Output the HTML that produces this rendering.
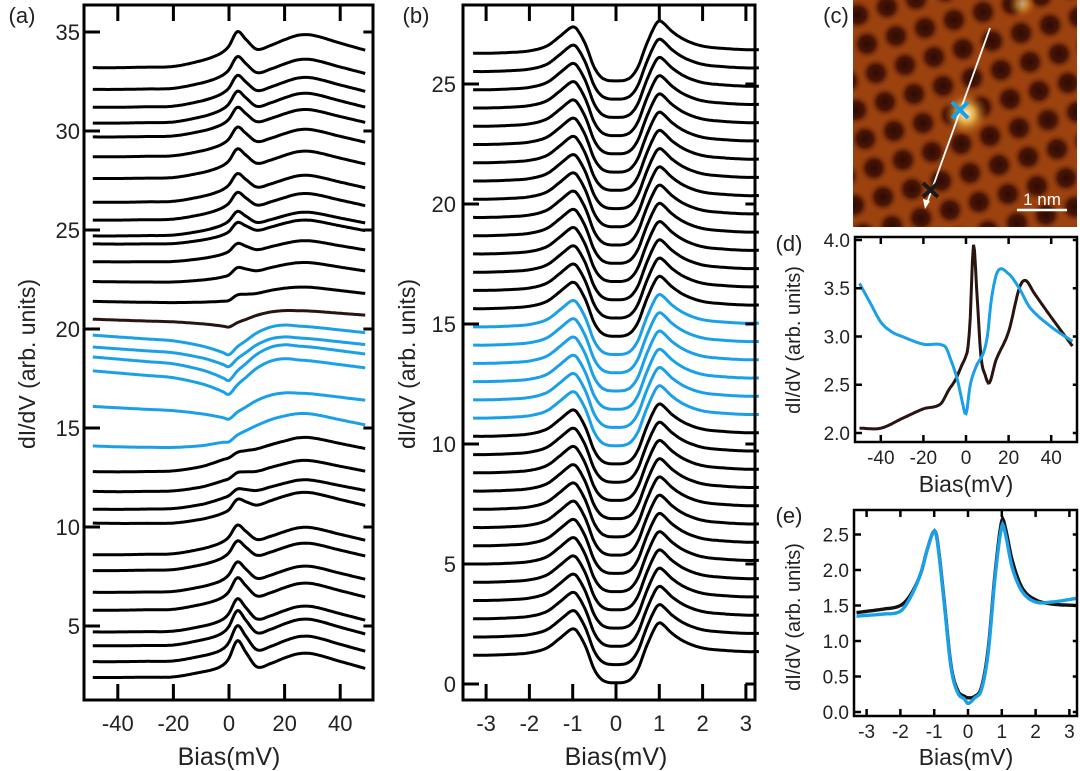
<!DOCTYPE html>
<html><head><meta charset="utf-8"><style>
html,body{margin:0;padding:0;background:#fff;}
svg{display:block;font-family:"Liberation Sans",Arial,sans-serif;}
</style></head><body>
<svg id="fig" width="1080" height="771" viewBox="0 0 1080 771">
<g id="gc"></g>
<g id="ga"></g>
<g id="gb"></g>
<g id="gd"></g>
<g id="ge"></g>
</svg>
<script>
// ---------- Panel (a) data ----------
const aNodes = [-50,-40,-30,-20,-10,-5,-2,0,3,6,10,15,20,25,30,40,50];
const aPeakShape = [0,0,0,0,0.1,0.15,0.25,0.45,1,0.6,0.08,0.15,0.3,0.4,0.4,0.2,0];
const aRiseShape = [0,0,0.02,0.05,0.2,0.35,0.45,0.5,0.6,0.65,0.7,0.8,0.9,1,1,0.85,0.7];
const aDipShape = [0,-0.1,-0.2,-0.3,-0.55,-0.75,-0.9,-1,-0.6,-0.3,0.1,0.4,0.5,0.45,0.4,0.25,0.1];
const aOffsets = [33.2,32.1,31.2,30.4,29.7,28.7,27.6,26.4,25.5,24.7,24.3,23.4,22.4,21.4,20.5,19.7,19.1,18.6,17.9,16.1,14.1,12.8,11.8,10.9,10.2,8.6,7.8,6.7,5.8,4.7,4.0,3.2,2.4];
const aPeak = [1.1,1.0,0.95,0.95,0.9,0.9,0.9,0.85,0.8,0.7,0.6,0.5,0.4,0.2,0,0,0,0,0,0,0,0.1,0.2,0.3,0.6,0.9,0.9,1.0,1.1,1.2,1.3,1.4,1.5];
const aRise = [1.2,1.1,1.1,1.1,1.0,1.0,1.0,1.0,1.0,0.9,0.9,0.8,0.7,0.5,0.2,0,0,0,0,0.3,1.4,1.6,1.4,1.3,1.2,1.0,1.0,0.9,0.9,0.8,0.8,0.7,0.6];
const aDip = [0,0,0,0,0,0,0,0,0,0,0.1,0.1,0.2,0.3,0.5,1.0,1.0,1.2,1.2,0.8,0.5,0.15,0.15,0.1,0.2,0,0,0,0,0,0,0,0];
const aColors = ["k","k","k","k","k","k","k","k","k","k","k","k","k","k","br","b","b","b","b","b","b","k","k","k","k","k","k","k","k","k","k","k","k"];
const aXTicks = [-40,-20,0,20,40];
const aYTicks = [5,10,15,20,25,30,35];
// ---------- Panel (b) data ----------
const bNodes = [-3.3,-3,-2.5,-2,-1.6,-1.3,-1.1,-1,-0.9,-0.7,-0.5,-0.3,0,0.3,0.5,0.7,0.9,1,1.1,1.3,1.6,2,2.5,3,3.3];
const bShape = [0,0,0.03,0.1,0.3,0.7,1.0,1.1,1.0,0.35,-0.6,-1.05,-1.15,-1.05,-0.6,0.35,1.15,1.35,1.25,0.9,0.55,0.3,0.2,0.15,0.15];
const bOffsets = [1.2,1.96,2.72,3.48,4.24,5.0,5.76,6.52,7.28,8.04,8.8,9.56,10.32,11.08,11.84,12.6,13.36,14.12,14.88,15.64,16.4,17.16,17.92,18.68,19.44,20.2,20.96,21.72,22.48,23.24,24.0,24.76,25.52,26.28];
const bBlue = [13,14,15,16,17,18];
const bXTicks = [-3,-2,-1,0,1,2,3];
const bYTicks = [0,5,10,15,20,25];
// ---------- Panel (d) data ----------
const dBlackX = [-50,-40,-30,-20,-12,-8,-5,-2,0,1,2,3.5,5,7,9,11,14,20,25,28,32,40,50];
const dBlackY = [2.05,2.05,2.15,2.25,2.3,2.45,2.55,2.7,2.8,2.9,3.2,3.95,3.5,2.8,2.6,2.52,2.75,3.05,3.5,3.58,3.45,3.2,2.9];
const dBlueX = [-50,-45,-40,-35,-30,-20,-10,-7,-4,-2,0,2,5,8,10,12,15,20,25,30,40,50];
const dBlueY = [3.55,3.35,3.15,3.05,3.0,2.92,2.9,2.75,2.55,2.35,2.2,2.5,2.7,2.82,3.0,3.4,3.68,3.65,3.5,3.3,3.1,2.95];
const dXTicks = [-40,-20,0,20,40];
const dYTicks = [2.0,2.5,3.0,3.5,4.0];
// ---------- Panel (e) data ----------
const eX = [-3.3,-2.5,-2,-1.7,-1.4,-1.2,-1.0,-0.9,-0.7,-0.5,-0.3,-0.1,0,0.2,0.4,0.6,0.8,1.0,1.1,1.3,1.6,2,2.5,3.2];
const eBlackY = [1.4,1.45,1.5,1.65,1.95,2.3,2.55,2.4,1.55,0.65,0.3,0.22,0.2,0.22,0.35,0.9,1.95,2.7,2.6,2.15,1.75,1.58,1.52,1.5];
const eBlueY = [1.35,1.38,1.42,1.62,1.95,2.3,2.55,2.38,1.52,0.62,0.27,0.18,0.12,0.2,0.32,0.85,1.9,2.62,2.52,2.05,1.7,1.55,1.55,1.6];
const eXTicks = [-3,-2,-1,0,1,2,3];
const eYTicks = [0.0,0.5,1.0,1.5,2.0,2.5];

const NS = "http://www.w3.org/2000/svg";
function mk(parent, tag, attrs, text){
  const el = document.createElementNS(NS, tag);
  for (const k in attrs) el.setAttribute(k, attrs[k]);
  if (text !== undefined) el.textContent = text;
  parent.appendChild(el);
  return el;
}
function cr(xs, ys, x){
  let i = 0;
  while (i < xs.length - 2 && x > xs[i+1]) i++;
  const x0 = xs[i], x1 = xs[i+1];
  const t = Math.max(0, Math.min(1, (x - x0) / (x1 - x0)));
  const p0 = ys[Math.max(0,i-1)], p1 = ys[i], p2 = ys[i+1], p3 = ys[Math.min(ys.length-1,i+2)];
  const xa = xs[Math.max(0,i-1)], xd = xs[Math.min(xs.length-1,i+2)];
  const m1 = (p2 - p0) / (x1 - xa) * (x1 - x0);
  const m2 = (p3 - p1) / (xd - x0) * (x1 - x0);
  const t2 = t*t, t3 = t2*t;
  return (2*t3-3*t2+1)*p1 + (t3-2*t2+t)*m1 + (-2*t3+3*t2)*p2 + (t3-t2)*m2;
}
function pathFrom(fn, x0, x1, sx, sy, n){
  let d = "";
  for (let k = 0; k <= n; k++){
    const x = x0 + (x1 - x0) * k / n;
    d += (k ? "L" : "M") + sx(x).toFixed(1) + "," + sy(fn(x)).toFixed(1);
  }
  return d;
}
const COL = {k:"#000", b:"#1aa0e6", br:"#2a1410"};

function frame(g, x0, y0, x1, y1, sw){
  const r = mk(g, "rect", {x:x0, y:y0, width:x1-x0, height:y1-y0, fill:"none", stroke:"#000", "stroke-width":sw});
  
  
}
function axes(g, o){
  const {sx, sy, L, R, T, B, xt, yt, tl, sw, fs, xlY, ylX, dec} = o;
  for (const v of xt){
    const x = sx(v);
    const t1 = mk(g, "line", {x1:x, x2:x, y1:B, y2:B-tl, stroke:"#000", "stroke-width":sw});
    
    
    const t2 = mk(g, "line", {x1:x, x2:x, y1:T, y2:T+tl, stroke:"#000", "stroke-width":sw});
    
    
    const lb = mk(g, "text", {x:x, y:xlY, "font-size":fs, "text-anchor":"middle", fill:"#222"}, String(v));
    
    
  }
  for (const v of yt){
    const y = sy(v);
    const t1 = mk(g, "line", {x1:L, x2:L+tl, y1:y, y2:y, stroke:"#000", "stroke-width":sw});
    
    
    const t2 = mk(g, "line", {x1:R, x2:R-tl*0.6, y1:y, y2:y, stroke:"#000", "stroke-width":sw});
    
    
    const lb = mk(g, "text", {x:ylX, y:y+fs*0.36, "font-size":fs, "text-anchor":"end", fill:"#222"}, dec ? v.toFixed(dec) : String(v));
    
    
  }
}
function label(g, x, y, txt, fs, name, rot){
  const t = mk(g, "text", {x:x, y:y, "font-size":fs, "text-anchor":"middle", fill:"#222"}, txt);
  if (rot) t.setAttribute("transform", "rotate(-90 " + x + " " + y + ")");
  
  
}

// ---------- Panel (a) ----------
(function(){
  const g = document.getElementById("ga");
  const sx = v => 229 + v * 2.78;
  const sy = v => 32 + (35 - v) * 19.8;
  for (let i = 0; i < aOffsets.length; i++){
    const fn = x => aOffsets[i] + aPeak[i]*cr(aNodes, aPeakShape, x) + aRise[i]*cr(aNodes, aRiseShape, x) + aDip[i]*cr(aNodes, aDipShape, x);
    const p = mk(g, "path", {d:pathFrom(fn, -49, 49, sx, sy, 160), fill:"none", stroke:COL[aColors[i]], "stroke-width":3, "stroke-linejoin":"round"});
    
    
  }
  frame(g, 84, 5, 373, 700, 3);
  axes(g, {sx, sy, L:84, R:373, T:5, B:700, xt:aXTicks, yt:aYTicks, tl:16, sw:3, fs:22, xlY:731, ylX:80});
  label(g, 229, 765, "Bias(mV)", 25, "x-axis-title-a");
  label(g, 35, 364, "dI/dV (arb. units)", 23, "y-axis-title-a", true);
  label(g, 22, 23, "(a)", 22, "panel-label-a");
})();

// ---------- Panel (b) ----------
(function(){
  const g = document.getElementById("gb");
  const sx = v => 616 + v * 43.3;
  const sy = v => 684 - v * 24;
  for (let i = 0; i < bOffsets.length; i++){
    const blue = bBlue.indexOf(i) >= 0;
    const fn = x => bOffsets[i] + cr(bNodes, bShape, x);
    const p = mk(g, "path", {d:pathFrom(fn, -3.3, 3.3, sx, sy, 200), fill:"none", stroke:blue ? COL.b : "#000", "stroke-width":3, "stroke-linejoin":"round"});
    
    
  }
  frame(g, 463, 5, 755, 700, 3);
  axes(g, {sx, sy, L:463, R:755, T:5, B:700, xt:bXTicks, yt:bYTicks, tl:16, sw:3, fs:22, xlY:731, ylX:456});
  label(g, 616, 765, "Bias(mV)", 25, "x-axis-title-b");
  label(g, 415, 364, "dI/dV (arb. units)", 23, "y-axis-title-b", true);
  label(g, 416, 23, "(b)", 22, "panel-label-b");
})();

// ---------- Panel (c) ----------
(function(){
  const g = document.getElementById("gc");
  const defs = mk(g, "defs", {});
  const rg = mk(defs, "radialGradient", {id:"hole"});
  mk(rg, "stop", {offset:"0", "stop-color":"#2e0a02"});
  mk(rg, "stop", {offset:"0.5", "stop-color":"#4a1506"});
  mk(rg, "stop", {offset:"1", "stop-color":"#9c420e", "stop-opacity":"0"});
  const sg = mk(defs, "radialGradient", {id:"spot"});
  mk(sg, "stop", {offset:"0", "stop-color":"#fff6d8"});
  mk(sg, "stop", {offset:"0.4", "stop-color":"#e0a840"});
  mk(sg, "stop", {offset:"1", "stop-color":"#b85812", "stop-opacity":"0"});
  mk(defs, "clipPath", {id:"cclip"}).appendChild(document.createElementNS(NS,"rect"));
  const cp = defs.lastChild.firstChild;
  cp.setAttribute("x",853); cp.setAttribute("y",0); cp.setAttribute("width",224); cp.setAttribute("height",227);
  const bg = mk(g, "rect", {x:853, y:0, width:224, height:227, fill:"#9c420e"});
  
  
  const hg = mk(g, "g", {"clip-path":"url(#cclip)"});
  for (let i = -4; i < 12; i++){
    for (let j = -2; j < 10; j++){
      const x = 858 + i*29 + j*9, y = 15 + j*29 - i*8;
      if (x < 830 || x > 1100 || y < -20 || y > 250) continue;
      mk(hg, "circle", {cx:x, cy:y, r:16, fill:"url(#hole)"});
    }
  }
  mk(hg, "circle", {cx:966, cy:114, r:22, fill:"url(#spot)"});
  mk(hg, "circle", {cx:1022, cy:4, r:14, fill:"url(#spot)", opacity:0.6});
  const ln = mk(g, "line", {x1:990, y1:28, x2:927, y2:203, stroke:"#fff", "stroke-width":1.8});
  
  
  mk(g, "polygon", {points:"925,209 923,199 930,201", fill:"#fff"});
  const bx = mk(g, "path", {d:"M952,102L968,118M968,102L952,118", stroke:"#1aa0e6", "stroke-width":4});
  
  
  const kx = mk(g, "path", {d:"M923,183L938,197M938,183L923,197", stroke:"#1a1a1a", "stroke-width":4});
  
  
  const sb = mk(g, "line", {x1:1017, y1:210, x2:1067, y2:210, stroke:"#fff", "stroke-width":2.5});
  
  
  const st = mk(g, "text", {x:1042, y:205, "font-size":17, "text-anchor":"middle", fill:"#fff"}, "1 nm");
  
  
  label(g, 836, 23, "(c)", 22, "panel-label-c");
})();

// ---------- Panel (d) ----------
(function(){
  const g = document.getElementById("gd");
  const sx = v => 966 + v * 2.13;
  const sy = v => 240 + (4.0 - v) * 96.5;
  const pk = mk(g, "path", {d:pathFrom(x => cr(dBlackX, dBlackY, x), -50, 50, sx, sy, 200), fill:"none", stroke:"#2a1410", "stroke-width":3});
  
  
  const pb = mk(g, "path", {d:pathFrom(x => cr(dBlueX, dBlueY, x), -50, 50, sx, sy, 200), fill:"none", stroke:COL.b, "stroke-width":3});
  
  
  frame(g, 855, 237, 1077, 442, 2.5);
  axes(g, {sx, sy, L:855, R:1077, T:237, B:442, xt:dXTicks, yt:dYTicks, tl:7, sw:2.5, fs:19, xlY:464, ylX:850, dec:1});
  label(g, 966, 492, "Bias(mV)", 23, "x-axis-title-d");
  label(g, 800, 340, "dI/dV (arb. units)", 20, "y-axis-title-d", true);
  label(g, 789, 251, "(d)", 22, "panel-label-d");
})();

// ---------- Panel (e) ----------
(function(){
  const g = document.getElementById("ge");
  const sx = v => 968 + v * 33.8;
  const sy = v => 712 - v * 71;
  const pk = mk(g, "path", {d:pathFrom(x => cr(eX, eBlackY, x), -3.3, 3.2, sx, sy, 200), fill:"none", stroke:"#111", "stroke-width":3.4});
  
  
  const pb = mk(g, "path", {d:pathFrom(x => cr(eX, eBlueY, x), -3.3, 3.2, sx, sy, 200), fill:"none", stroke:COL.b, "stroke-width":3.4});
  
  
  frame(g, 854, 510, 1077, 716, 2.5);
  axes(g, {sx, sy, L:854, R:1077, T:510, B:716, xt:eXTicks, yt:eYTicks, tl:7, sw:2.5, fs:19, xlY:738, ylX:849, dec:1});
  label(g, 966, 765, "Bias(mV)", 23, "x-axis-title-e");
  label(g, 800, 617, "dI/dV (arb. units)", 20, "y-axis-title-e", true);
  label(g, 789, 523, "(e)", 22, "panel-label-e");
})();
</script>
</body></html>
